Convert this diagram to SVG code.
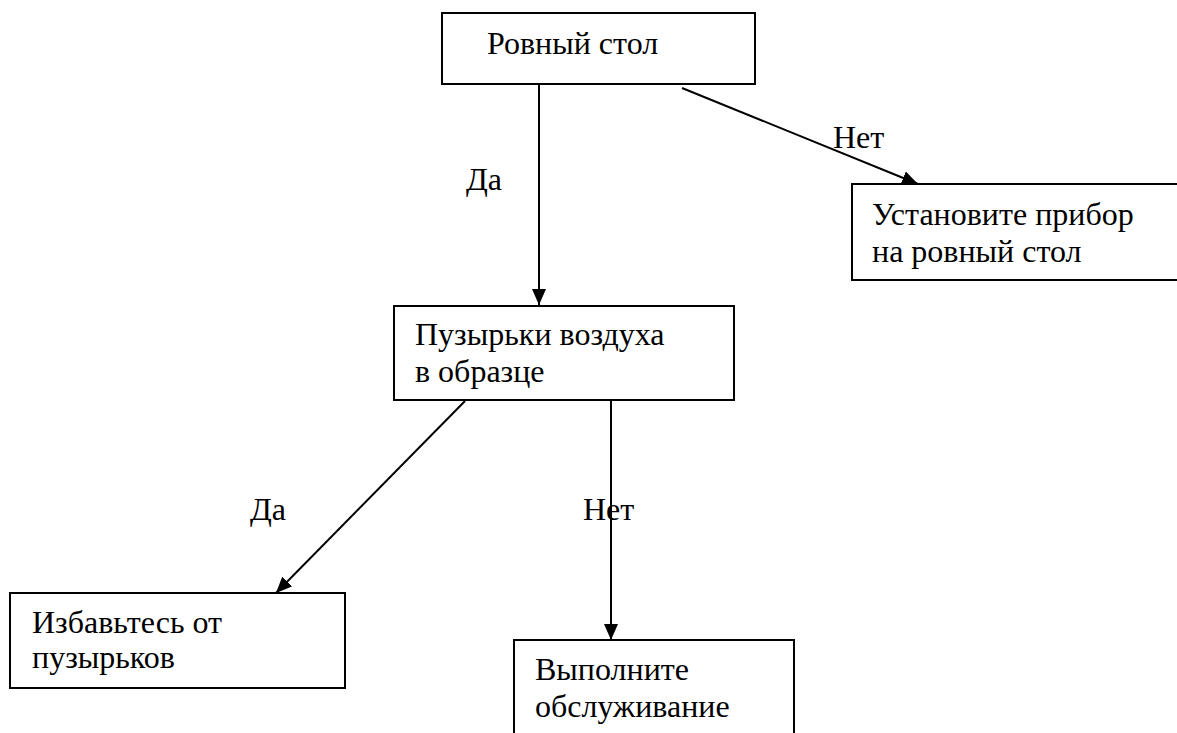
<svg xmlns="http://www.w3.org/2000/svg" width="1177" height="733" viewBox="0 0 1177 733">
<defs>
<style>
.box{fill:#fff;stroke:#000;stroke-width:2}
.t{font-family:'Liberation Serif','Times New Roman',serif;font-size:32px;fill:#000}
.c{stroke:#000;stroke-width:2;fill:none;marker-end:url(#ah)}
</style>
<marker id="ah" viewBox="0 0 16 14" refX="16" refY="7" markerWidth="16" markerHeight="14" markerUnits="userSpaceOnUse" orient="auto">
<path d="M0,0 L16,7 L0,14 Z" fill="#000"/>
</marker>
</defs>
<rect width="1177" height="733" fill="#fff"/>
<g id="connectors">
<line class="c" x1="539" y1="85" x2="539" y2="305"/>
<line class="c" x1="682" y1="88" x2="918" y2="184"/>
<line class="c" x1="465" y1="401" x2="276" y2="593"/>
<line class="c" x1="611" y1="401" x2="611" y2="640"/>
<text class="t" x="466" y="190">Да</text>
<text class="t" x="833" y="148">Нет</text>
<text class="t" x="250" y="520">Да</text>
<text class="t" x="583" y="520">Нет</text>
</g>
<g id="n1">
<rect class="box" x="442" y="13" width="313" height="71"/>
<text class="t" x="487" y="54">Ровный стол</text>
</g>
<g id="n2">
<rect class="box" x="852" y="184" width="340" height="96"/>
<text class="t" x="872" y="225">Установите прибор</text>
<text class="t" x="872" y="262">на ровный стол</text>
</g>
<g id="n3">
<rect class="box" x="394" y="306" width="340" height="94"/>
<text class="t" x="415" y="345">Пузырьки воздуха</text>
<text class="t" x="415" y="382">в образце</text>
</g>
<g id="n4">
<rect class="box" x="10" y="593" width="335" height="95"/>
<text class="t" x="32" y="633">Избавьтесь от</text>
<text class="t" x="32" y="668">пузырьков</text>
</g>
<g id="n5">
<rect class="box" x="514" y="640" width="280" height="110"/>
<text class="t" x="535" y="680">Выполните</text>
<text class="t" x="535" y="717">обслуживание</text>
</g>
</svg>
